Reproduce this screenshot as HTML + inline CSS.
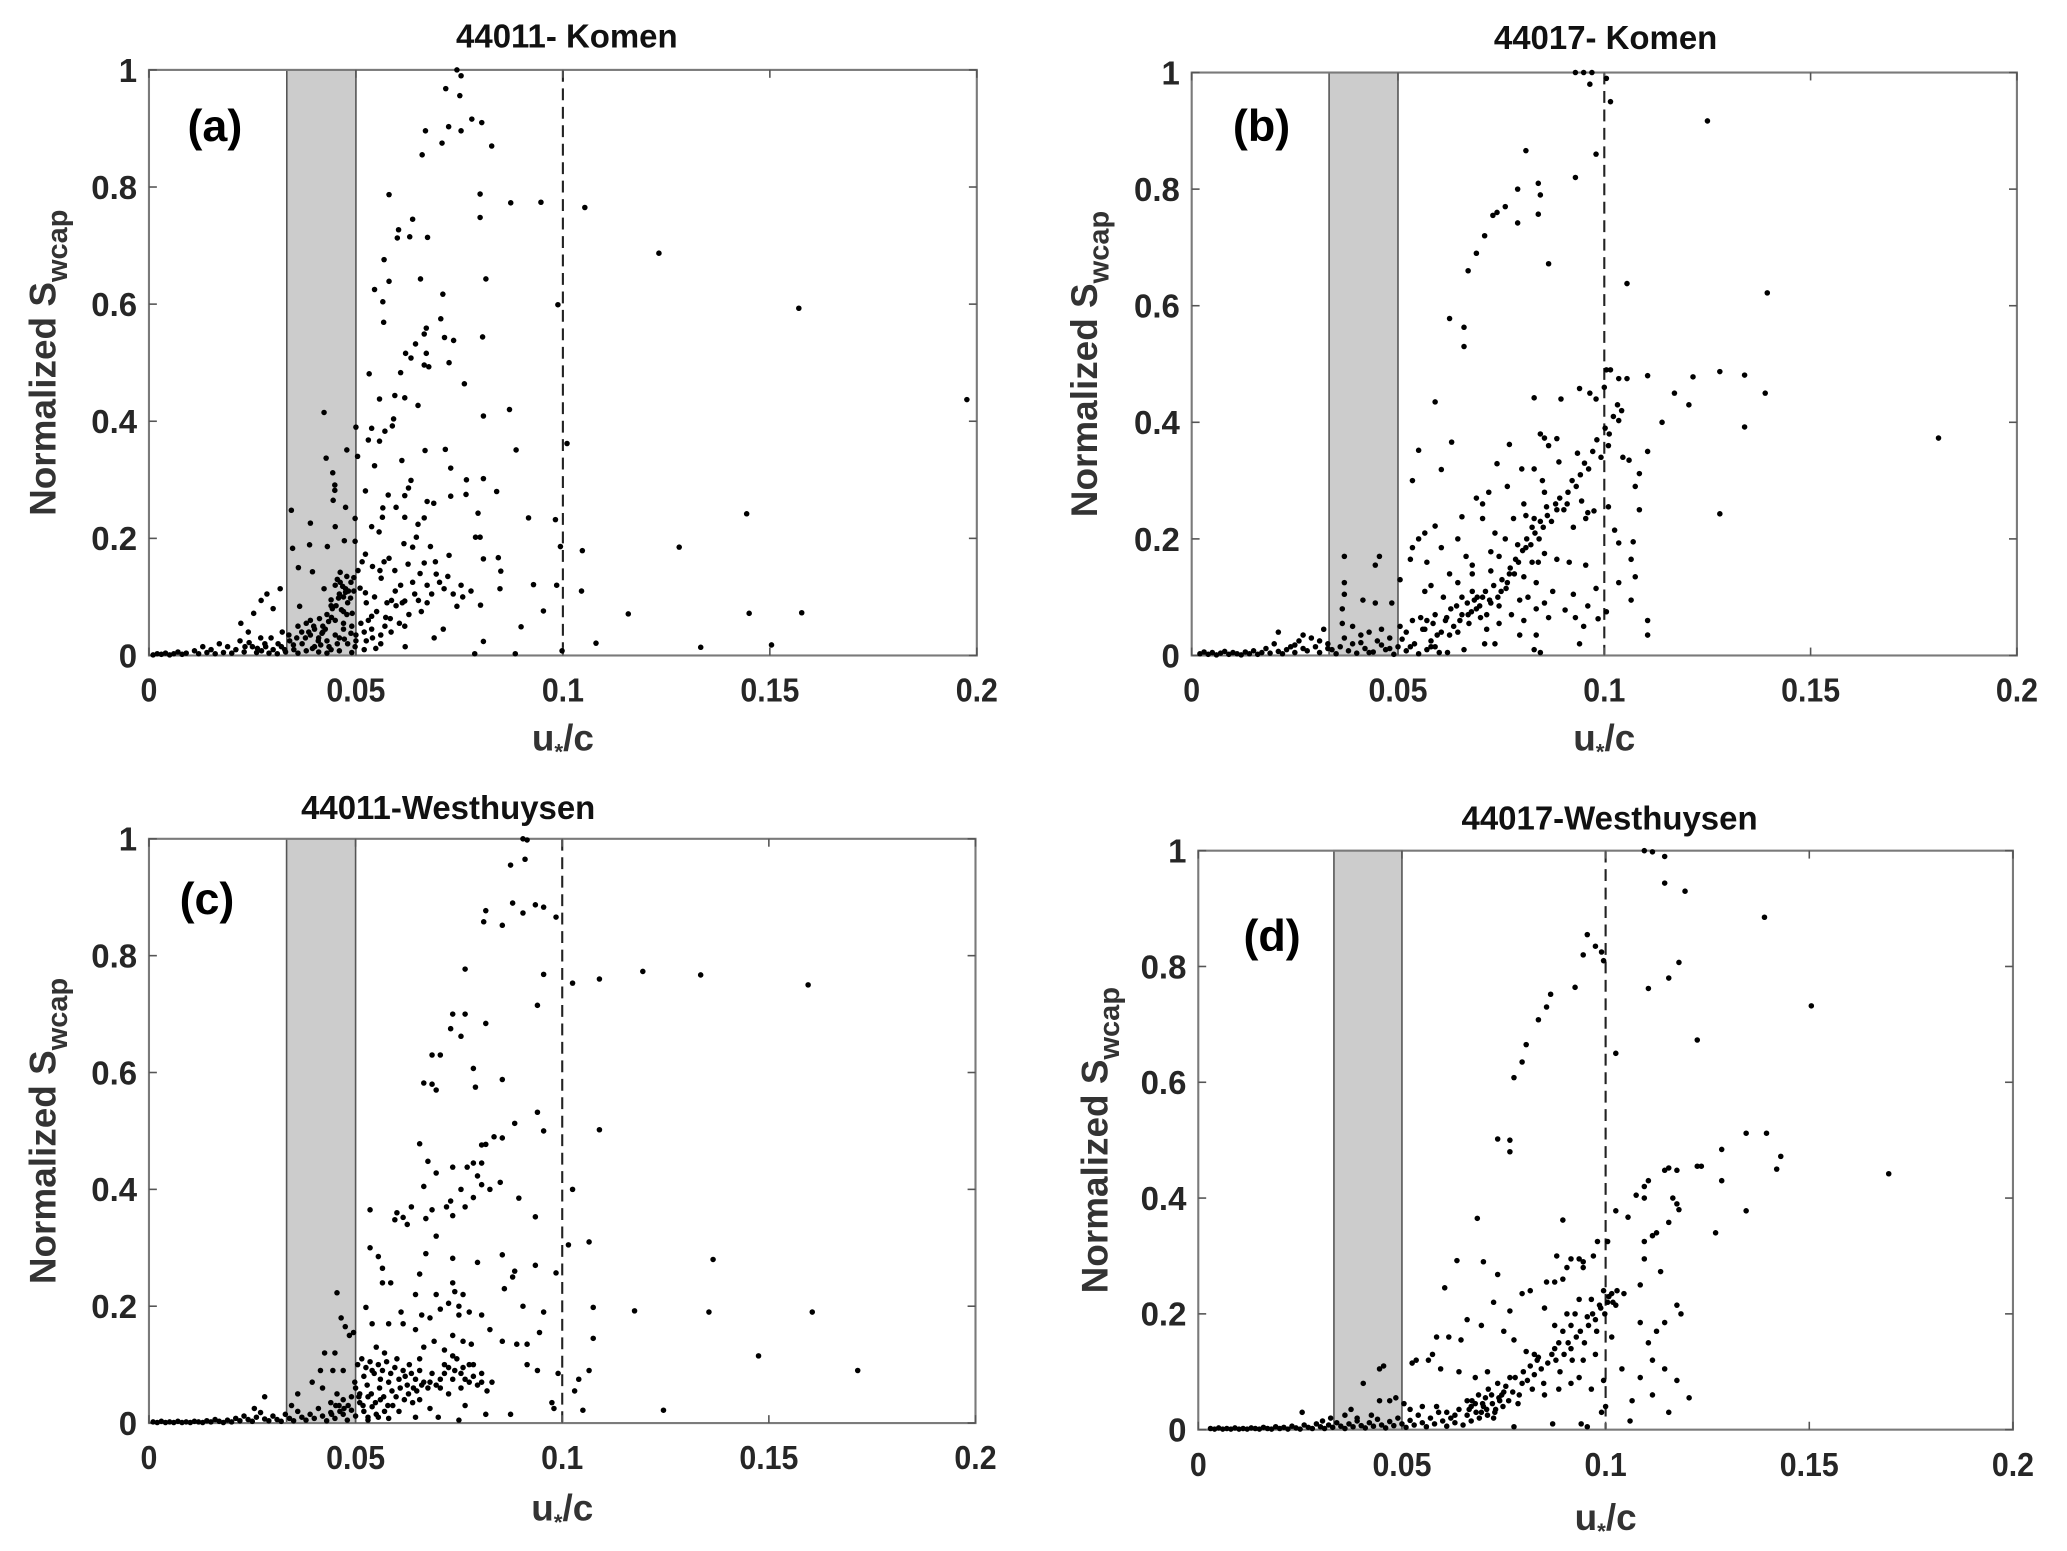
<!DOCTYPE html>
<html><head><meta charset="utf-8"><style>
html,body{margin:0;padding:0;background:#fff}
svg{display:block}
text{font-family:"Liberation Sans",Arial,sans-serif;font-weight:bold}
</style></head><body>
<svg id="fig" width="2067" height="1551" viewBox="0 0 1568 1176" preserveAspectRatio="none" xmlns="http://www.w3.org/2000/svg"></svg>
<script>
const xTicks=[0,0.05,0.1,0.15,0.2];
const xTickLabels=["0","0.05","0.1","0.15","0.2"];
const yTicks=[0,0.2,0.4,0.6,0.8,1];
const yTickLabels=["0","0.2","0.4","0.6","0.8","1"];
const bandRange=[0.0333,0.05];
const refLine=0.1;
const titles=["44011- Komen","44017- Komen","44011-Westhuysen","44017-Westhuysen"];
const tags=["(a)","(b)","(c)","(d)"];

const dataA=[[.0744,1],[.0754,.99],[.0717,.968],[.0751,.956],[.078,.916],[.0804,.91],[.0724,.903],[.0668,.896],[.0754,.896],[.0708,.875],[.0828,.87],[.066,.855],[.058,.787],[.080,.788],[.0874,.773],[.0947,.774],[.1053,.765],[.080,.748],[.0637,.745],[.0603,.727],[.06,.713],[.063,.715],[.0673,.714],[.1232,.687],[.0568,.676],[.058,.639],[.0656,.643],[.0814,.643],[.0545,.625],[.0565,.604],[.071,.617],[.0988,.599],[.157,.593],[.0705,.575],[.0567,.569],[.067,.559],[.0665,.549],[.0714,.543],[.0736,.538],[.0806,.544],[.0644,.532],[.062,.516],[.0633,.508],[.067,.516],[.0665,.496],[.0676,.493],[.0725,.5],[.0608,.483],[.0532,.481],[.0762,.464],[.0557,.438],[.0594,.444],[.0618,.44],[.065,.427],[.1976,.437],[.0871,.42],[.0423,.415],[.0591,.404],[.0588,.392],[.0808,.409],[.0500,.390],[.0538,.388],[.057,.383],[.101,.362],[.053,.368],[.0557,.366],[.0667,.35],[.0716,.352],[.0887,.351],[.0478,.351],[.0428,.337],[.0504,.340],[.0545,.324],[.0611,.333],[.0444,.312],[.0729,.32],[.0449,.291],[.0633,.299],[.0627,.286],[.0449,.282],[.0808,.302],[.0767,.30],[.084,.28],[.0523,.281],[.0729,.272],[.0766,.275],[.0578,.274],[.0618,.273],[.0344,.248],[.0445,.265],[.0475,.253],[.0672,.263],[.0688,.26],[.0565,.252],[.0597,.253],[.1444,.242],[.0917,.235],[.0982,.232],[.0795,.243],[.0498,.234],[.0564,.236],[.0618,.236],[.039,.226],[.045,.22],[.0538,.22],[.065,.224],[.0665,.235],[.0556,.211],[.0789,.202],[.08,.202],[.0994,.186],[.1047,.179],[.1281,.185],[.0498,.195],[.0388,.189],[.0347,.183],[.0431,.186],[.0472,.196],[.0646,.202],[.0616,.191],[.0637,.185],[.068,.186],[.0725,.171],[.0808,.165],[.0844,.167],[.0523,.173],[.058,.166],[.085,.144],[.0626,.156],[.0665,.158],[.054,.152],[.0594,.145],[.0361,.15],[.0395,.143],[.0462,.142],[.0495,.133],[.0694,.139],[.0722,.135],[.0561,.132],[.0929,.121],[.0985,.12],[.0754,.12],[.0848,.114],[.1045,.11],[.0713,.114],[.0317,.114],[.0285,.105],[.0423,.114],[.0475,.114],[.0523,.107],[.0586,.094],[.0618,.093],[.0651,.094],[.0271,.094],[.0801,.086],[.0744,.084],[.0953,.076],[.1158,.071],[.145,.072],[.1577,.073],[.0222,.055],[.0253,.072],[.030,.080],[.0364,.084],[.0412,.063],[.0443,.08],[.0491,.072],[.0538,.067],[.0583,.063],[.0618,.05],[.0711,.045],[.0899,.049],[.0689,.03],[.0808,.024],[.108,.021],[.1333,.014],[.1504,.018],[.0619,.015],[.0885,.003],[.0787,.003],[.0998,.008],
[.045,.12],[.046,.105],[.047,.1],[.044,.095],[.048,.09],[.043,.07],[.045,.06],[.047,.055],[.049,.05],[.042,.05],[.04,.045],[.038,.055],[.036,.05],[.039,.035],[.041,.03],[.043,.025],[.046,.03],[.048,.02],[.05,.025],[.052,.04],[.054,.03],[.056,.02],[.052,.01],[.049,.005],[.044,.01],[.04,.015],[.037,.02],[.035,.01],[.034,.025],[.032,.015],[.03,.01],[.028,.02],[.027,.03],[.025,.015],[.024,.04],[.022,.025],[.021,.01],[.019,.015],[.018,.005],[.017,.02],[.015,.01],[.014,.005],[.013,.015],[.012,.003],[.011,.008],[.009,.004],[.008,.002],[.007,.006],[.006,.003],[.005,.001],[.004,.004],[.003,.002],[.002,.003],[.001,.001],[.016,.003],[.02,.004],[.023,.006],[.026,.005],[.029,.004],[.031,.003],[.033,.006],[.036,.004],[.038,.008],[.041,.006],[.043,.004],[.046,.008],[.047,.045],[.045,.035],[.042,.04],[.039,.06],[.050,.035],[.053,.06],[.055,.075],[.057,.05],[.047,.075],[.044,.085],
[.0455,.13],[.0462,.125],[.0468,.118],[.0475,.108],[.0458,.098],[.0482,.11],[.0487,.098],[.0452,.085],[.0465,.078],[.0478,.07],[.0441,.065],[.0434,.058],[.0426,.045],[.0418,.038],[.0409,.025],[.0398,.05],[.0386,.04],[.0378,.03],[.0369,.04],[.0357,.03],[.0349,.018],[.0338,.035],[.0395,.012],[.0415,.018],[.0435,.015],[.0455,.02],[.0472,.028],[.0488,.038],[.0498,.015],[.0512,.055],[.0525,.025],[.0538,.045],[.0548,.012],[.0560,.035],[.0572,.065],[.0585,.04],[.0597,.085],[.0605,.055],[.0612,.09],[.0628,.07],[.0595,.11],[.0575,.09],[.0545,.1],[.0525,.09],[.051,.115],[.0495,.11],[.0488,.125],[.0478,.135],[.0505,.145],[.0515,.16],[.0558,.145],[.0568,.16],[.0608,.12],[.0637,.125],[.0655,.14],[.0672,.12],[.0692,.16],[.0702,.125],[.0735,.105],[.0758,.1],[.0778,.11],[.0683,.105],[.0672,.09],[.0658,.075],[.0642,.105],[.0232,.015],[.0242,.022],[.0262,.012],[.0272,.008],[.0282,.015],[.0295,.03],[.0312,.02],[.0322,.04],[.0328,.01]];

const dataB=[[.093,1],[.095,1],[.097,1],[.1005,.99],[.0965,.98],[.1015,.95],[.125,.917],[.081,.866],[.098,.86],[.093,.82],[.084,.81],[.079,.8],[.0845,.79],[.076,.77],[.074,.76],[.073,.755],[.084,.757],[.079,.742],[.0865,.672],[.071,.72],[.069,.69],[.067,.66],[.1055,.638],[.1395,.622],[.0625,.578],[.066,.563],[.066,.53],[.1005,.49],[.1015,.49],[.1035,.475],[.1055,.475],[.1105,.48],[.1215,.478],[.128,.487],[.134,.481],[.139,.45],[.117,.45],[.1205,.43],[.094,.458],[.0965,.45],[.098,.44],[.100,.46],[.083,.442],[.0895,.44],[.059,.435],[.114,.4],[.1035,.403],[.134,.392],[.181,.373],[.063,.366],[.0845,.38],[.0855,.373],[.0885,.372],[.0865,.36],[.077,.362],[.055,.352],[.0935,.347],[.101,.36],[.1045,.34],[.106,.335],[.1105,.35],[.1085,.312],[.074,.329],[.0765,.29],[.0605,.319],[.0535,.3],[.08,.32],[.083,.32],[.089,.332],[.085,.3],[.069,.27],[.0705,.26],[.0855,.28],[.072,.28],[.128,.243],[.1075,.29],[.1085,.25],[.0805,.26],[.081,.24],[.083,.235],[.0825,.22],[.0845,.23],[.078,.235],[.091,.26],[.0945,.265],[.096,.245],[.0975,.248],[.101,.255],[.1025,.215],[.1035,.193],[.107,.195],[.0655,.238],[.0705,.235],[.059,.222],[.0565,.21],[.055,.2],[.0645,.2],[.0735,.21],[.076,.2],[.0925,.22],[.0955,.235],[.086,.255],[.0885,.25],[.079,.19],[.081,.185],[.0725,.178],[.0745,.17],[.0785,.165],[.0825,.16],[.0855,.175],[.0885,.165],[.0915,.16],[.0955,.155],[.0665,.17],[.068,.155],[.0605,.185],[.057,.16],[.053,.165],[.0535,.185],[.0625,.14],[.0645,.125],[.068,.14],[.0725,.145],[.077,.14],[.0805,.135],[.0765,.125],[.0835,.125],[.084,.16],[.0875,.11],[.0925,.105],[.098,.115],[.1005,.075],[.1065,.095],[.1035,.125],[.1065,.165],[.1075,.135],[.058,.12],[.0565,.11],[.061,.1],[.0655,.1],[.068,.11],[.0705,.1],[.0725,.09],[.0745,.085],[.075,.11],[.0795,.095],[.0815,.1],[.0855,.09],[.0905,.078],[.093,.065],[.095,.05],[.096,.085],[.0985,.063],[.1105,.06],[.1105,.035],[.094,.02],[.083,.01],[.0845,.005],[.0795,.035],[.0835,.035],[.0735,.02],[.071,.02],[.066,.01],[.062,.005],[.0595,.035],[.058,.015],[.037,.17],[.0455,.17],[.0445,.155],[.037,.125],[.037,.105],[.0415,.095],[.0445,.09],[.0485,.09],[.0505,.13],[.0365,.08],[.0365,.055],[.039,.05],[.041,.035],[.043,.04],[.046,.045],[.048,.03],[.0505,.05],[.052,.04],[.0535,.06],[.0555,.065],[.057,.06],[.059,.07],[.0615,.06],[.0635,.05],[.065,.06],[.067,.07],[.069,.08],[.07,.065],[.0715,.07],[.0685,.095],
[.002,.003],[.003,.006],[.004,.002],[.005,.005],[.006,.001],[.007,.004],[.008,.007],[.009,.002],[.010,.005],[.011,.003],[.012,.001],[.013,.006],[.014,.003],[.015,.008],[.016,.002],[.017,.005],[.018,.012],[.019,.004],[.020,.02],[.021,.007],[.022,.003],[.023,.01],[.024,.015],[.025,.005],[.026,.025],[.027,.012],[.028,.008],[.029,.03],[.030,.015],[.031,.005],[.032,.045],[.033,.02],[.034,.01],[.035,.003],[.036,.015],[.038,.008],[.039,.02],[.040,.004],[.042,.012],[.044,.006],[.045,.025],[.047,.01],[.049,.002],[.050,.015],[.052,.008],[.054,.02],[.055,.003],[.057,.01],[.058,.025],[.060,.005],[.027,.035],[.021,.04],[.025,.018],[.031,.025],[.033,.012],[.037,.03],[.041,.022],[.043,.005],[.046,.018],[.048,.012],[.051,.028],[.053,.015],[.056,.045],[.059,.015],
[.0605,.04],[.0618,.065],[.0628,.08],[.0642,.085],[.0655,.07],[.0668,.09],[.0678,.075],[.0692,.1],[.0698,.085],[.0712,.11],[.0722,.095],[.0732,.12],[.0742,.1],[.0752,.13],[.0762,.115],[.0772,.15],[.0782,.14],[.0792,.16],[.0802,.18],[.0812,.2],[.0822,.19],[.0832,.21],[.0842,.2],[.0852,.22],[.0862,.24],[.0872,.23],[.0882,.26],[.0892,.27],[.0902,.25],[.0912,.28],[.0922,.3],[.0932,.29],[.0942,.31],[.0952,.33],[.0962,.32],[.0972,.35],[.0982,.37],[.0992,.34],[.1002,.39],[.1012,.38],[.1022,.41],[.1032,.43],[.1042,.42],[.0565,.045],[.0585,.055],[.0625,.035],[.0645,.04],[.0672,.055],[.0715,.045],[.0745,.055],[.0775,.07],[.0805,.06],[.0835,.08],[.0865,.065]];

const dataC=[[.0905,1],[.0915,.998],[.091,.965],[.0875,.955],[.088,.89],[.0935,.887],[.0955,.883],[.0905,.873],[.0985,.866],[.0815,.877],[.081,.858],[.0855,.852],[.0765,.777],[.0955,.768],[.1025,.753],[.109,.76],[.1195,.773],[.1335,.767],[.1595,.75],[.094,.715],[.0735,.7],[.0765,.7],[.073,.675],[.0755,.662],[.0815,.684],[.0685,.63],[.0705,.63],[.0785,.607],[.0855,.588],[.0665,.582],[.0685,.58],[.0695,.57],[.079,.575],[.094,.532],[.0955,.5],[.109,.502],[.0885,.513],[.0835,.49],[.0855,.488],[.0815,.477],[.0805,.476],[.0655,.478],[.0675,.448],[.0735,.438],[.077,.438],[.0785,.445],[.0805,.445],[.0695,.428],[.0795,.423],[.0805,.408],[.0825,.4],[.0785,.386],[.085,.412],[.0665,.405],[.1025,.4],[.0755,.4],[.0895,.385],[.073,.38],[.072,.37],[.0735,.355],[.0765,.37],[.0685,.365],[.067,.35],[.0635,.37],[.0615,.352],[.0595,.348],[.06,.36],[.0625,.34],[.0535,.365],[.0935,.353],[.0695,.32],[.1015,.305],[.1065,.31],[.0535,.3],[.0555,.285],[.0565,.265],[.067,.29],[.0735,.282],[.0795,.275],[.0855,.288],[.0935,.27],[.0985,.257],[.1365,.28],[.0885,.26],[.088,.25],[.0565,.24],[.0585,.24],[.0655,.255],[.0735,.24],[.074,.225],[.076,.22],[.075,.2],[.0725,.205],[.0705,.195],[.0695,.22],[.0645,.22],[.0455,.223],[.086,.23],[.0905,.2],[.0955,.19],[.1075,.198],[.1175,.192],[.1355,.19],[.1605,.19],[.0525,.198],[.061,.19],[.066,.185],[.068,.18],[.075,.185],[.0775,.19],[.0805,.185],[.0465,.18],[.0475,.165],[.0485,.15],[.0495,.155],[.054,.17],[.058,.17],[.0615,.17],[.0645,.16],[.0735,.15],[.076,.14],[.078,.135],[.0825,.16],[.0855,.14],[.089,.135],[.0915,.135],[.0945,.155],[.1075,.145],[.0665,.13],[.069,.14],[.0715,.125],[.0735,.115],[.1475,.115],[.0425,.12],[.045,.12],[.055,.13],[.057,.12],[.06,.11],[.063,.1],[.0655,.11],[.0715,.1],[.074,.09],[.076,.095],[.0785,.1],[.0805,.085],[.083,.07],[.0915,.1],[.094,.09],[.099,.085],[.1065,.09],[.104,.075],[.103,.055],[.1715,.09],[.0415,.09],[.0445,.09],[.047,.09],[.0395,.07],[.042,.06],[.0455,.05],[.05,.06],[.052,.08],[.054,.09],[.056,.075],[.058,.07],[.062,.08],[.064,.06],[.066,.065],[.068,.07],[.0705,.06],[.0725,.05],[.0755,.06],[.0775,.07],[.0655,.04],[.068,.025],[.07,.01],[.075,.005],[.0765,.03],[.0815,.015],[.0875,.015],[.0975,.035],[.098,.025],[.105,.022],[.1245,.022],[.036,.05],[.0345,.03],[.028,.045],[.0255,.025],[.059,.03],[.0605,.02],[.0555,.01],[.053,.005],[.0645,.01],
[.001,.002],[.002,.001],[.003,.003],[.004,.001],[.005,.002],[.006,.001],[.007,.003],[.008,.001],[.009,.002],[.010,.001],[.011,.003],[.012,.002],[.013,.001],[.014,.004],[.015,.002],[.016,.006],[.017,.003],[.018,.001],[.019,.005],[.020,.002],[.021,.008],[.022,.004],[.023,.012],[.024,.006],[.025,.003],[.026,.01],[.027,.018],[.028,.007],[.029,.004],[.030,.012],[.031,.006],[.032,.003],[.033,.015],[.034,.008],[.035,.004],[.036,.02],[.037,.01],[.038,.005],[.039,.015],[.040,.008],[.041,.025],[.042,.012],[.043,.004],[.044,.018],[.045,.008],[.046,.03],[.047,.015],[.048,.005],[.049,.022],[.050,.012],[.051,.035],[.052,.02],[.053,.01],[.054,.028],[.055,.015],[.056,.04],[.057,.02],[.058,.008],[.047,.04],[.044,.035],[.049,.045],[.051,.05],[.053,.045],
[.0505,.1],[.0515,.11],[.0525,.095],[.0535,.105],[.0545,.085],[.0555,.1],[.0565,.09],[.0575,.105],[.0585,.085],[.0595,.095],[.0605,.075],[.0615,.09],[.0625,.065],[.0635,.085],[.0645,.075],[.0655,.09],[.0665,.07],[.0675,.06],[.0685,.085],[.0695,.065],[.0705,.075],[.0715,.085],[.0725,.095],[.0735,.075],[.0745,.11],[.0755,.085],[.0765,.075],[.0775,.1],[.0785,.08],[.0795,.065],[.0805,.07],[.0818,.055],[.0498,.07],[.0508,.045],[.0518,.03],[.0528,.065],[.0538,.05],[.0548,.035],[.0558,.06],[.0568,.045],[.0578,.03],[.0588,.055],[.0598,.045],[.0608,.06],[.0618,.04],[.0628,.05],[.0638,.035],[.0648,.055],[.0482,.03],[.0472,.025],[.0462,.02],[.0452,.03],[.0442,.015]];

const dataD=[[.1095,1],[.1115,.998],[.1145,.99],[.1145,.944],[.1195,.93],[.139,.885],[.0955,.855],[.0975,.835],[.0945,.82],[.099,.825],[.0995,.81],[.118,.807],[.1155,.78],[.1105,.762],[.0925,.764],[.0865,.752],[.0855,.73],[.0835,.708],[.1505,.732],[.1225,.673],[.0805,.665],[.1025,.65],[.0795,.635],[.0775,.608],[.0735,.502],[.0765,.5],[.0765,.48],[.1345,.512],[.1395,.512],[.143,.472],[.142,.45],[.1695,.442],[.1285,.484],[.1285,.43],[.1235,.455],[.1175,.448],[.1155,.452],[.1145,.448],[.1105,.43],[.1095,.42],[.1075,.405],[.1095,.4],[.1165,.4],[.1175,.39],[.118,.38],[.1025,.378],[.1345,.378],[.1055,.367],[.0685,.365],[.0895,.362],[.1095,.325],[.1115,.335],[.1125,.34],[.1155,.358],[.127,.34],[.098,.325],[.1005,.325],[.0915,.295],[.0935,.295],[.0945,.29],[.097,.3],[.088,.3],[.0635,.292],[.07,.29],[.0735,.268],[.0905,.28],[.0945,.28],[.1095,.295],[.1135,.273],[.0855,.255],[.0875,.255],[.0895,.26],[.1085,.25],[.0605,.245],[.0815,.24],[.0795,.235],[.0935,.225],[.0965,.225],[.0995,.24],[.1015,.235],[.1045,.235],[.0985,.215],[.1005,.22],[.1025,.215],[.1175,.215],[.1225,.455],[.0725,.22],[.085,.21],[.0905,.2],[.0925,.2],[.0955,.195],[.0975,.19],[.1185,.2],[.0765,.205],[.066,.19],[.0695,.18],[.075,.17],[.0875,.18],[.0895,.17],[.0915,.18],[.1085,.185],[.1145,.185],[.1125,.17],[.1015,.16],[.0615,.16],[.0585,.16],[.0645,.155],[.0775,.155],[.0805,.135],[.0825,.13],[.0835,.125],[.0875,.14],[.0885,.15],[.0915,.14],[.0945,.12],[.0975,.13],[.1105,.15],[.1115,.12],[.0575,.13],[.0535,.12],[.0565,.12],[.0595,.105],[.064,.1],[.068,.09],[.071,.1],[.0735,.08],[.0765,.09],[.0795,.08],[.082,.07],[.085,.06],[.0885,.07],[.0915,.08],[.0935,.09],[.0965,.07],[.0995,.085],[.104,.105],[.1065,.05],[.1085,.09],[.1115,.06],[.1145,.105],[.1175,.085],[.1205,.055],[.1155,.03],[.106,.015],[.099,.03],[.1,.04],[.0955,.005],[.094,.01],[.087,.01],[.0775,.005],[.0725,.02],[.0695,.03],[.0455,.11],[.0445,.105],[.0405,.08],[.0445,.05],[.047,.05],[.0485,.055],[.0505,.045],[.0525,.115],[.052,.035],[.055,.04],[.0585,.04],[.061,.03],[.063,.025],[.066,.05],[.067,.04],[.0705,.055],[.0745,.06],[.0785,.045],[.0375,.035],[.036,.025],[.039,.02],[.0425,.025],[.0255,.03],[.0305,.015],[.0325,.02],
[.003,.002],[.004,.001],[.005,.003],[.006,.001],[.007,.002],[.008,.001],[.009,.003],[.010,.001],[.011,.002],[.012,.001],[.013,.003],[.014,.002],[.015,.001],[.016,.004],[.017,.002],[.018,.001],[.019,.005],[.020,.002],[.021,.004],[.022,.001],[.023,.006],[.024,.003],[.025,.001],[.026,.008],[.027,.004],[.028,.002],[.029,.01],[.030,.005],[.031,.002],[.032,.008],[.033,.004],[.034,.012],[.035,.006],[.036,.002],[.037,.01],[.038,.005],[.039,.015],[.040,.007],[.041,.003],[.042,.012],[.043,.006],[.044,.018],[.045,.008],[.046,.003],[.047,.014],[.048,.007],[.049,.02],[.050,.01],[.051,.004],[.052,.016],[.053,.008],[.054,.025],[.055,.012],[.056,.005],[.057,.02],[.058,.01],[.059,.03],[.060,.015],[.061,.006],[.062,.02],[.063,.012],[.064,.035],[.065,.008],[.066,.025],[.067,.015],[.068,.045],[.069,.02],[.070,.04],[.071,.025],[.072,.06],[.073,.035],[.074,.05],[.075,.065],
[.0665,.035],[.0672,.05],[.0682,.03],[.0688,.06],[.0698,.045],[.0708,.035],[.0712,.07],[.0722,.045],[.0728,.03],[.0738,.055],[.0748,.04],[.0755,.075],[.0762,.05],[.0772,.065],[.0778,.09],[.0788,.06],[.0798,.1],[.0808,.085],[.0815,.11],[.0825,.095],[.0832,.12],[.0842,.105],[.0848,.08],[.0858,.115],[.0868,.13],[.0878,.12],[.0888,.1],[.0898,.13],[.0908,.15],[.0918,.12],[.0928,.16],[.0938,.17],[.0948,.15],[.0958,.18],[.0968,.2],[.0978,.17],[.0988,.21],[.0998,.2],[.1008,.23],[.1018,.22],[.1028,.24]];

const panels=[
 {L:113,R:741,T:53,B:497,data:dataA,title:[430,36],tag:[163,107],ylab:42,xlab:557},
 {L:904,R:1530,T:55,B:497,data:dataB,title:[1218,37],tag:[957,107],ylab:832,xlab:557},
 {L:113,R:740,T:636,B:1079,data:dataC,title:[340,621],tag:[157,693],ylab:42,xlab:1141},
 {L:909,R:1527,T:645,B:1084,data:dataD,title:[1221,629],tag:[965,721],ylab:840,xlab:1148}
];
const NS="http://www.w3.org/2000/svg";
const svg=document.getElementById('fig');
function mk(tag,attrs,parent){const e=document.createElementNS(NS,tag);for(const k in attrs)e.setAttribute(k,attrs[k]);(parent||svg).appendChild(e);return e;}

panels.forEach((p,i)=>{
 const sx=v=>p.L+(v-0)/(0.2-0)*(p.R-p.L);
 const sy=v=>p.B-(v-0)/(1-0)*(p.B-p.T);
 const g=mk('g',{});
 
 
 const band=mk('rect',{x:sx(bandRange[0]),y:p.T,width:sx(bandRange[1])-sx(bandRange[0]),height:p.B-p.T,fill:'#cccccc',stroke:'#555','stroke-width':1.2},g);
 
 
 const dl=mk('line',{x1:sx(refLine),x2:sx(refLine),y1:p.T,y2:p.B,stroke:'#222','stroke-width':1.6,'stroke-dasharray':'9,5'},g);
 
 
 const box=mk('rect',{x:p.L,y:p.T,width:p.R-p.L,height:p.B-p.T,fill:'none',stroke:'#7a7a7a','stroke-width':1.6},g);
 
 
 xTicks.forEach((t,j)=>{
  const x=sx(t);
  mk('line',{x1:x,x2:x,y1:p.B,y2:p.B-6,stroke:'#555','stroke-width':1.2},g);
  mk('line',{x1:x,x2:x,y1:p.T,y2:p.T+6,stroke:'#555','stroke-width':1.2},g);
  const tl=mk('text',{x:x,y:p.B+35,'text-anchor':'middle','font-size':25,fill:'#262626',transform:`translate(${x},0) scale(0.92,1) translate(${-x},0)`},g);
  tl.textContent=xTickLabels[j];
  
  
 });
 yTicks.forEach((t,j)=>{
  const y=sy(t);
  mk('line',{x1:p.L,x2:p.L+6,y1:y,y2:y,stroke:'#555','stroke-width':1.2},g);
  mk('line',{x1:p.R,x2:p.R-6,y1:y,y2:y,stroke:'#555','stroke-width':1.2},g);
  const tl=mk('text',{x:p.L-9,y:y+9,'text-anchor':'end','font-size':25,fill:'#262626'},g);
  tl.textContent=yTickLabels[j];
  
  
 });
 p.data.forEach(d=>{
  const c=mk('circle',{cx:sx(d[0]),cy:sy(d[1]),r:2.1,fill:'#000'},g);
  
  
 });
 const tt=mk('text',{x:p.title[0],y:p.title[1],'text-anchor':'middle','font-size':25,fill:'#111'},g);
 tt.textContent=titles[i];
 
 
 const tg=mk('text',{x:p.tag[0],y:p.tag[1],'text-anchor':'middle','font-size':34,fill:'#000'},g);
 tg.textContent=tags[i];
 
 
 const xl=mk('text',{x:(p.L+p.R)/2,y:p.xlab+12,'text-anchor':'middle','font-size':28,fill:'#333'},g);
 xl.innerHTML='u<tspan font-size="17" dy="7">*</tspan><tspan dy="-7">/c</tspan>';
 
 
 const cy=(p.T+p.B)/2;
 const yl=mk('text',{x:0,y:0,'text-anchor':'middle','font-size':28,fill:'#333',transform:`translate(${p.ylab},${cy}) rotate(-90)`},g);
 yl.innerHTML='Normalized  S<tspan font-size="22" dy="9">wcap</tspan>';
 
 
});
</script>
</body></html>
